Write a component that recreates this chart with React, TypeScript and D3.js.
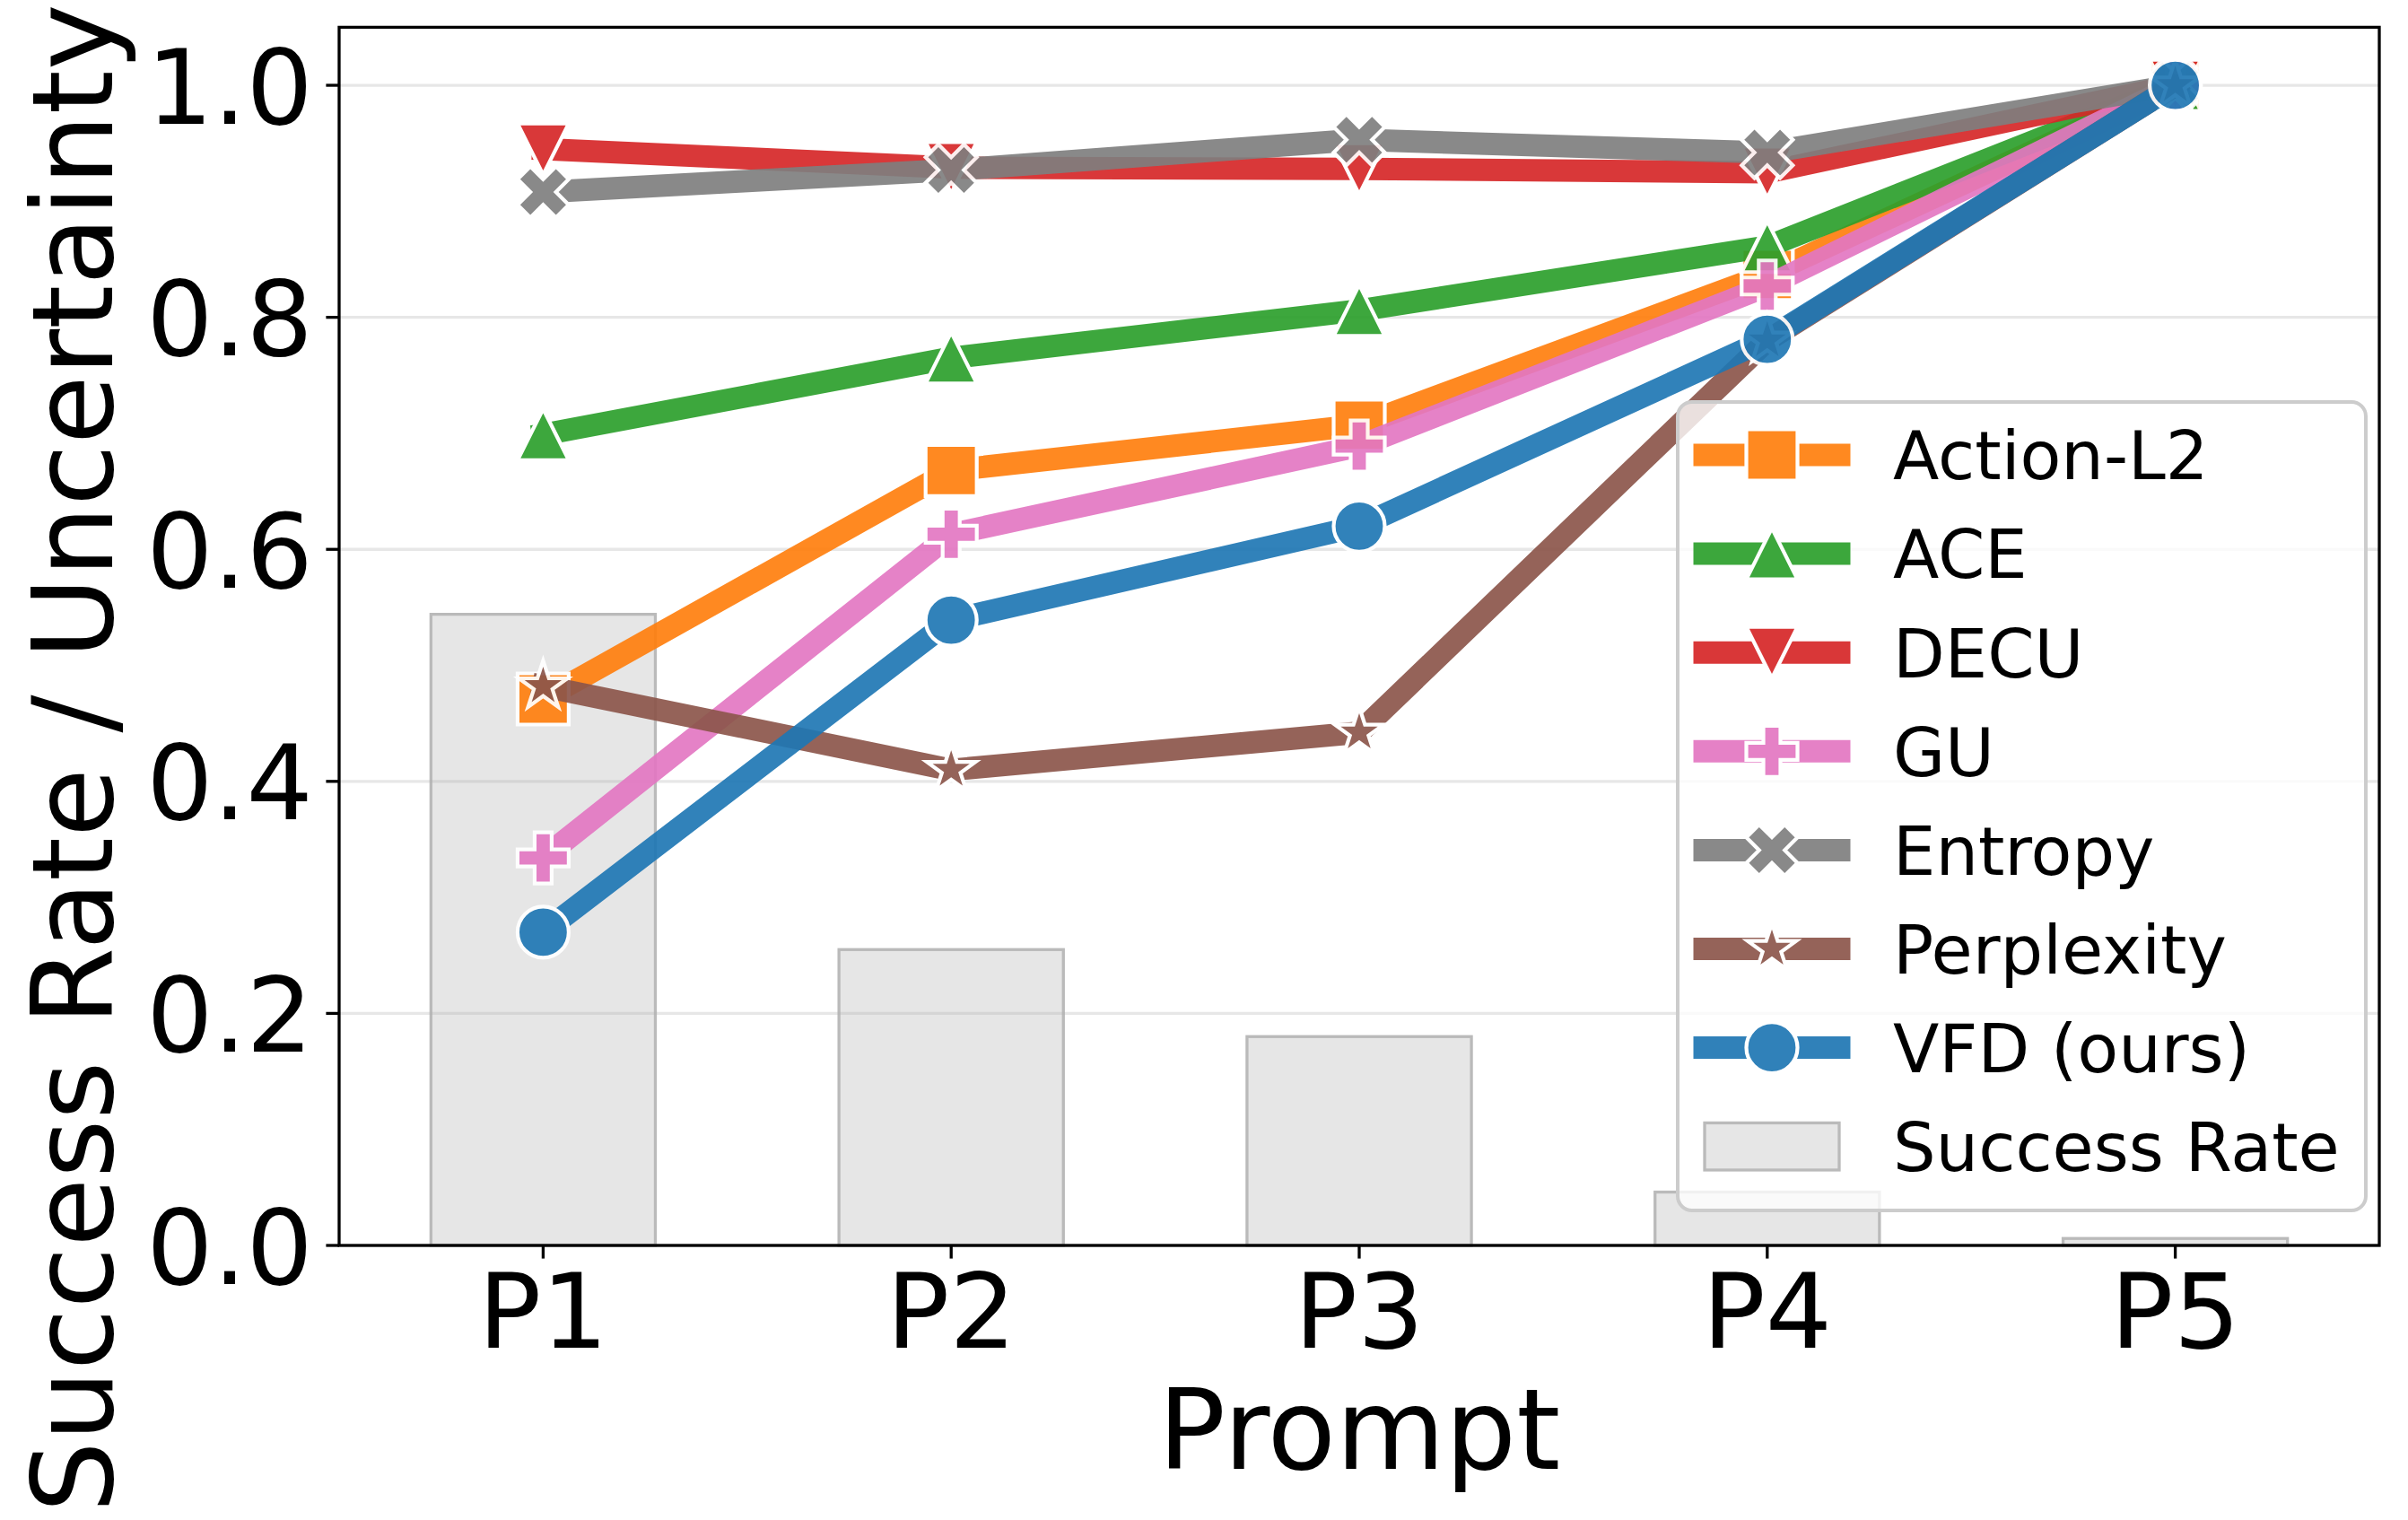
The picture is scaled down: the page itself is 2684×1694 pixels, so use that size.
import { useRef, useEffect } from "react";
import * as d3 from "d3";

// prompts on the x axis
const prompts = ["P1", "P2", "P3", "P4", "P5"];
const yTicks = [0, 0.2, 0.4, 0.6, 0.8, 1.0];

// bar series
const successRate = [0.544, 0.255, 0.18, 0.046, 0.006];

// uncertainty scores per method
const actionL2 = [0.471, 0.668, 0.707, 0.837, 1.0];
const ace = [0.699, 0.765, 0.806, 0.861, 1.0];
const decu = [0.945, 0.929, 0.928, 0.925, 1.0];
const gu = [0.334, 0.613, 0.689, 0.827, 1.0];
const entropy = [0.908, 0.927, 0.953, 0.942, 1.0];
const perplexity = [0.482, 0.41, 0.442, 0.78, 1.0];
const vfd = [0.27, 0.539, 0.62, 0.781, 1.0];

type MarkerKind = "square" | "triUp" | "triDown" | "plus" | "x" | "star" | "circle";

const series: { name: string; values: number[]; color: string; marker: MarkerKind }[] = [
  { name: "Action-L2", values: actionL2, color: "#ff7f0e", marker: "square" },
  { name: "ACE", values: ace, color: "#2ca02c", marker: "triUp" },
  { name: "DECU", values: decu, color: "#d62728", marker: "triDown" },
  { name: "GU", values: gu, color: "#e377c2", marker: "plus" },
  { name: "Entropy", values: entropy, color: "#7f7f7f", marker: "x" },
  { name: "Perplexity", values: perplexity, color: "#8c564b", marker: "star" },
  { name: "VFD (ours)", values: vfd, color: "#1f77b4", marker: "circle" },
];

const WIDTH = 2684;
const HEIGHT = 1694;
const FONT = "DejaVu Sans";

// matplotlib-style marker outlines, centred on 0,0
const polygon = (pts: number[][], s: number) =>
  "M" + pts.map((p) => `${p[0] * s},${p[1] * s}`).join("L") + "Z";

function markerPath(kind: MarkerKind, ms: number): string {
  const h = ms / 2;
  switch (kind) {
    case "square":
      return polygon([[-1, -1], [1, -1], [1, 1], [-1, 1]], h);
    case "triUp":
      return polygon([[0, -1], [-1, 1], [1, 1]], h);
    case "triDown":
      return polygon([[0, 1], [-1, -1], [1, -1]], h);
    case "plus":
      return polygon(
        [[-1, -3], [1, -3], [1, -1], [3, -1], [3, 1], [1, 1], [1, 3], [-1, 3], [-1, 1], [-3, 1], [-3, -1], [-1, -1]],
        ms / 6
      );
    case "x":
      return polygon(
        [[-1, -2], [0, -1], [1, -2], [2, -1], [1, 0], [2, 1], [1, 2], [0, 1], [-1, 2], [-2, 1], [-1, 0], [-2, -1]],
        ms / 4
      );
    case "star": {
      const pts: number[][] = [];
      for (let i = 0; i < 10; i++) {
        const r = i % 2 === 0 ? 1 : 0.381966;
        const a = -Math.PI / 2 + (i * Math.PI) / 5;
        pts.push([r * Math.cos(a), r * Math.sin(a)]);
      }
      return polygon(pts, h);
    }
    default:
      return d3.symbol(d3.symbolCircle, Math.PI * h * h)() as string;
  }
}

export default function App() {
  const container = useRef<SVGSVGElement | null>(null);

  useEffect(() => {
    const svg = d3.select(container.current);
    svg.selectAll("*").remove();

    const left = 378, right = 2652, top = 30.4, bottom = 1388;
    const tickFs = 116.7, labelFs = 125, legendFs = 75;
    const lw = 25, ms = 57, mew = 4.2, spineW = 3.3, tickLen = 14.6, pad = 14.6;

    const x = d3.scalePoint<string>().domain(prompts).range([left, right]).padding(0.5);
    const y = d3.scaleLinear().domain([0, 1.05]).range([bottom, top]);
    const barW = x.step() * 0.55;

    svg.append("rect").attr("width", WIDTH).attr("height", HEIGHT).attr("fill", "#fff");

    // Success-rate bars
    svg.append("g")
      .selectAll("rect")
      .data(successRate)
      .enter()
      .append("rect")
      .attr("x", (d, i) => (x(prompts[i]) as number) - barW / 2)
      .attr("y", (d) => y(d))
      .attr("width", barW)
      .attr("height", (d) => bottom - y(d))
      .attr("fill", "#e6e6e6")
      .attr("stroke", "#bababa")
      .attr("stroke-width", 3.3);

    // horizontal grid
    svg.append("g")
      .selectAll("line")
      .data(yTicks)
      .enter()
      .append("line")
      .attr("x1", left)
      .attr("x2", right)
      .attr("y1", (d) => y(d))
      .attr("y2", (d) => y(d))
      .attr("stroke", "#b0b0b0")
      .attr("stroke-opacity", 0.3)
      .attr("stroke-width", 3.3);

    // lines + markers, one series at a time
    const valueLine = d3
      .line<number>()
      .x((d, i) => x(prompts[i]) as number)
      .y((d) => y(d));

    series.forEach((s) => {
      const g = svg.append("g").attr("opacity", 0.92);
      g.append("path")
        .attr("d", valueLine(s.values))
        .attr("fill", "none")
        .attr("stroke", s.color)
        .attr("stroke-width", lw)
        .attr("stroke-linejoin", "round")
        .attr("stroke-linecap", "square");
      g.selectAll("path.mk")
        .data(s.values)
        .enter()
        .append("path")
        .attr("class", "mk")
        .attr("d", markerPath(s.marker, ms))
        .attr("transform", (d, i) => `translate(${x(prompts[i])},${y(d)})`)
        .attr("fill", s.color)
        .attr("stroke", "#fff")
        .attr("stroke-width", mew)
        .attr("stroke-linejoin", "miter");
    });

    // frame
    svg.append("rect")
      .attr("x", left)
      .attr("y", top)
      .attr("width", right - left)
      .attr("height", bottom - top)
      .attr("fill", "none")
      .attr("stroke", "#000")
      .attr("stroke-width", spineW);

    // y ticks
    const yAxis = svg.append("g");
    yTicks.forEach((t) => {
      yAxis.append("line")
        .attr("x1", left - tickLen)
        .attr("x2", left)
        .attr("y1", y(t))
        .attr("y2", y(t))
        .attr("stroke", "#000")
        .attr("stroke-width", spineW);
      yAxis.append("text")
        .attr("x", left - tickLen - pad)
        .attr("y", y(t) + tickFs * 0.3645)
        .attr("text-anchor", "end")
        .attr("font-family", FONT)
        .attr("font-size", tickFs)
        .text(t.toFixed(1));
    });

    // x ticks
    const xAxis = svg.append("g");
    prompts.forEach((p) => {
      const px = x(p) as number;
      xAxis.append("line")
        .attr("x1", px)
        .attr("x2", px)
        .attr("y1", bottom)
        .attr("y2", bottom + tickLen)
        .attr("stroke", "#000")
        .attr("stroke-width", spineW);
      xAxis.append("text")
        .attr("x", px)
        .attr("y", 1502)
        .attr("text-anchor", "middle")
        .attr("font-family", FONT)
        .attr("font-size", tickFs)
        .text(p);
    });

    // axis labels
    svg.append("text")
      .attr("x", (left + right) / 2)
      .attr("y", 1637)
      .attr("text-anchor", "middle")
      .attr("font-family", FONT)
      .attr("font-size", labelFs)
      .text("Prompt");

    svg.append("text")
      .attr("transform", "translate(125,845) rotate(-90)")
      .attr("text-anchor", "middle")
      .attr("font-family", FONT)
      .attr("font-size", labelFs)
      .text("Success Rate / Uncertainty");

    // legend
    const lg = svg.append("g");
    lg.append("rect")
      .attr("x", 1870)
      .attr("y", 448)
      .attr("width", 2637 - 1870)
      .attr("height", 1349 - 448)
      .attr("rx", 16)
      .attr("fill", "#fff")
      .attr("fill-opacity", 0.8)
      .attr("stroke", "#cccccc")
      .attr("stroke-width", 4);

    const rowY = (i: number) => 507 + i * 110.1;
    const hx0 = 1900, hx1 = 2050, hxc = (hx0 + hx1) / 2, textX = 2110;

    series.forEach((s, i) => {
      const cy = rowY(i);
      const g = lg.append("g").attr("opacity", 0.92);
      g.append("line")
        .attr("x1", hx0)
        .attr("x2", hx1)
        .attr("y1", cy)
        .attr("y2", cy)
        .attr("stroke", s.color)
        .attr("stroke-width", lw)
        .attr("stroke-linecap", "square");
      g.append("path")
        .attr("d", markerPath(s.marker, ms))
        .attr("transform", `translate(${hxc},${cy})`)
        .attr("fill", s.color)
        .attr("stroke", "#fff")
        .attr("stroke-width", mew);
      lg.append("text")
        .attr("x", textX)
        .attr("y", cy + legendFs * 0.3645)
        .attr("font-family", FONT)
        .attr("font-size", legendFs)
        .text(s.name);
    });

    const barRow = rowY(series.length);
    lg.append("rect")
      .attr("x", hx0)
      .attr("y", barRow - legendFs * 0.35)
      .attr("width", hx1 - hx0)
      .attr("height", legendFs * 0.7)
      .attr("fill", "#e6e6e6")
      .attr("stroke", "#bababa")
      .attr("stroke-width", 3.3);
    lg.append("text")
      .attr("x", textX)
      .attr("y", barRow + legendFs * 0.3645)
      .attr("font-family", FONT)
      .attr("font-size", legendFs)
      .text("Success Rate");
  }, []);

  return (
    <svg
      ref={container}
      width={WIDTH}
      height={HEIGHT}
      style={{ position: "absolute", left: 0, top: 0, display: "block" }}
    />
  );
}
